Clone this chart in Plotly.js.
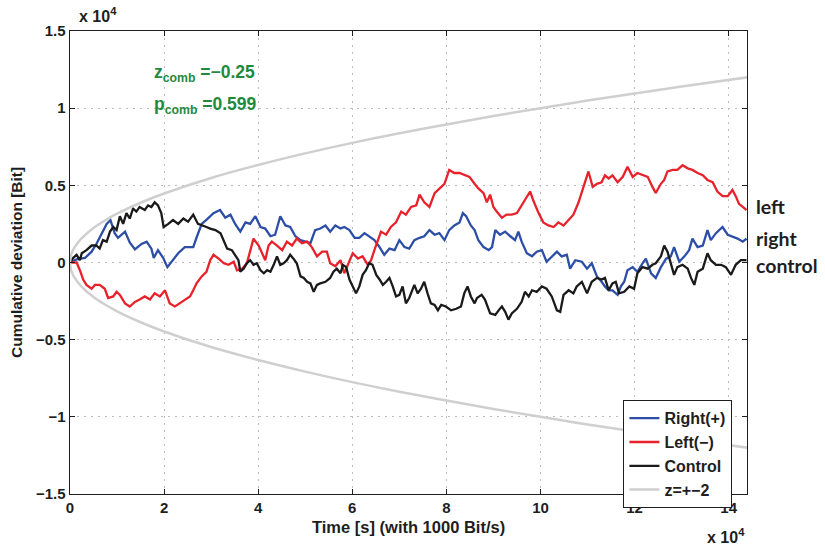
<!DOCTYPE html>
<html>
<head>
<meta charset="utf-8">
<script src="https://cdn.plot.ly/plotly-3.0.1.min.js"></script>
<style>html,body{margin:0;padding:0;background:#fff;}#chart{width:825px;height:546px;}</style>
</head>
<body>
<div id="chart"></div>
<script>
// values in units of 10^4
const rightX = [0,0.14,0.32,0.46,0.56,0.67,0.78,0.86,0.95,1.02,1.17,1.27,1.38,1.52,1.63,1.73,1.78,1.87,1.98,2.07,2.19,2.30,2.44,2.62,2.70,2.80,2.91,3.05,3.19,3.30,3.41,3.51,3.62,3.73,3.83,3.94,4.05,4.15,4.26,4.36,4.47,4.58,4.68,4.79,4.90,5.00,5.11,5.21,5.32,5.43,5.53,5.64,5.75,5.83,5.94,6.05,6.15,6.26,6.36,6.47,6.58,6.68,6.79,6.90,7.00,7.11,7.21,7.32,7.43,7.53,7.64,7.75,7.85,7.96,8.06,8.17,8.28,8.35,8.42,8.52,8.60,8.68,8.79,8.90,8.97,9.04,9.14,9.25,9.36,9.46,9.53,9.60,9.71,9.82,9.92,10.03,10.13,10.24,10.35,10.45,10.56,10.63,10.74,10.88,10.99,11.09,11.20,11.30,11.37,11.45,11.53,11.64,11.71,11.78,11.85,11.96,12.06,12.17,12.24,12.35,12.45,12.56,12.67,12.77,12.84,12.95,13.06,13.16,13.23,13.34,13.45,13.55,13.62,13.73,13.87,13.98,14.08,14.19,14.30,14.38];
const rightY = [0,0.02,0.03,0.07,0.12,0.18,0.25,0.275,0.19,0.16,0.20,0.13,0.085,0.12,0.135,0.09,0.03,0.08,0.03,-0.03,0.02,0.06,0.10,0.10,0.17,0.25,0.28,0.32,0.34,0.29,0.31,0.25,0.20,0.26,0.25,0.30,0.23,0.22,0.17,0.18,0.30,0.24,0.23,0.17,0.145,0.135,0.125,0.21,0.22,0.24,0.20,0.24,0.22,0.23,0.21,0.16,0.16,0.19,0.17,0.145,0.10,0.05,0.09,0.08,0.145,0.10,0.09,0.145,0.16,0.17,0.21,0.18,0.19,0.145,0.21,0.24,0.26,0.32,0.30,0.24,0.21,0.145,0.10,0.08,0.10,0.21,0.18,0.20,0.17,0.145,0.20,0.135,0.06,0.04,0.07,0.08,0.005,0.04,0.07,0.04,0.05,-0.04,0.015,0.005,-0.04,-0.005,-0.09,-0.125,-0.155,-0.18,-0.18,-0.21,-0.155,-0.125,-0.05,-0.03,-0.06,-0.005,0.025,-0.07,-0.10,-0.03,0.025,0.04,0.10,0.005,0.04,0.08,0.155,0.10,0.11,0.21,0.145,0.19,0.23,0.18,0.17,0.155,0.135,0.155];

const leftX = [0,0.14,0.21,0.28,0.35,0.46,0.53,0.63,0.74,0.81,0.92,0.99,1.06,1.17,1.27,1.38,1.48,1.59,1.70,1.80,1.91,2.02,2.12,2.23,2.33,2.44,2.55,2.62,2.69,2.80,2.90,2.98,3.05,3.16,3.27,3.37,3.48,3.55,3.66,3.76,3.83,3.90,4.01,4.08,4.15,4.22,4.29,4.40,4.51,4.61,4.72,4.82,4.93,5.04,5.14,5.25,5.36,5.46,5.53,5.64,5.75,5.83,5.90,6.01,6.12,6.22,6.33,6.40,6.47,6.54,6.61,6.72,6.82,6.93,7.04,7.14,7.25,7.36,7.43,7.53,7.64,7.75,7.85,7.96,8.06,8.17,8.28,8.38,8.49,8.60,8.68,8.79,8.86,8.93,9.00,9.07,9.18,9.28,9.39,9.50,9.60,9.71,9.78,9.85,9.96,10.06,10.17,10.28,10.38,10.49,10.60,10.70,10.81,10.88,10.95,11.02,11.11,11.20,11.30,11.37,11.45,11.53,11.64,11.75,11.85,11.96,12.06,12.17,12.28,12.38,12.45,12.56,12.63,12.70,12.81,12.91,13.02,13.13,13.23,13.34,13.45,13.55,13.66,13.76,13.87,13.98,14.08,14.15,14.22,14.30,14.38];
const leftY = [0,0,-0.05,-0.11,-0.145,-0.17,-0.145,-0.145,-0.17,-0.23,-0.22,-0.19,-0.21,-0.265,-0.285,-0.255,-0.24,-0.22,-0.24,-0.20,-0.22,-0.18,-0.265,-0.285,-0.265,-0.24,-0.22,-0.18,-0.135,-0.09,-0.06,0.015,0.05,0.025,-0.005,-0.015,0.005,-0.05,-0.04,-0.005,0.08,0.155,0.11,0.06,0.015,0.11,0.135,0.11,0.08,0.135,0.11,0.155,0.125,0.135,0.10,0.04,0.07,0.07,-0.005,-0.025,0.015,-0.07,-0.015,0.06,0.025,0.04,-0.015,0.015,0.08,0.135,0.20,0.18,0.23,0.26,0.33,0.31,0.36,0.37,0.44,0.39,0.36,0.45,0.48,0.51,0.60,0.58,0.58,0.57,0.555,0.51,0.48,0.45,0.39,0.44,0.36,0.33,0.29,0.31,0.31,0.32,0.37,0.43,0.46,0.40,0.32,0.26,0.24,0.23,0.26,0.24,0.275,0.31,0.39,0.46,0.535,0.59,0.49,0.51,0.52,0.565,0.545,0.565,0.52,0.555,0.62,0.555,0.58,0.565,0.555,0.49,0.45,0.51,0.535,0.59,0.60,0.60,0.63,0.61,0.60,0.58,0.565,0.535,0.52,0.46,0.43,0.43,0.47,0.43,0.38,0.36,0.34];

const controlX = [0,0.07,0.14,0.21,0.25,0.35,0.46,0.56,0.63,0.70,0.78,0.85,0.92,0.99,1.06,1.13,1.20,1.27,1.34,1.41,1.48,1.59,1.66,1.73,1.80,1.87,1.94,1.99,2.09,2.19,2.30,2.41,2.51,2.62,2.72,2.83,2.90,2.98,3.09,3.20,3.27,3.34,3.44,3.51,3.58,3.62,3.69,3.76,3.83,3.90,3.97,4.05,4.12,4.19,4.26,4.33,4.40,4.47,4.54,4.61,4.68,4.75,4.82,4.90,4.97,5.04,5.11,5.18,5.25,5.32,5.43,5.53,5.60,5.67,5.75,5.80,5.87,5.94,6.01,6.08,6.15,6.22,6.29,6.36,6.43,6.51,6.58,6.65,6.72,6.79,6.86,6.93,7.00,7.07,7.14,7.21,7.32,7.39,7.46,7.53,7.60,7.67,7.75,7.82,7.89,7.99,8.10,8.21,8.31,8.38,8.45,8.52,8.60,8.65,8.75,8.82,8.93,9.04,9.11,9.18,9.25,9.32,9.39,9.50,9.60,9.67,9.75,9.82,9.92,10.03,10.13,10.24,10.35,10.42,10.49,10.60,10.70,10.77,10.88,10.99,11.09,11.20,11.30,11.37,11.45,11.53,11.60,11.67,11.78,11.89,11.99,12.06,12.17,12.28,12.38,12.45,12.56,12.63,12.70,12.77,12.84,12.91,13.02,13.13,13.20,13.27,13.34,13.45,13.55,13.62,13.73,13.84,13.94,14.05,14.15,14.26,14.38];
const controlY = [0,0.03,0.05,0.015,0.06,0.08,0.11,0.11,0.09,0.145,0.135,0.20,0.23,0.21,0.30,0.25,0.32,0.285,0.35,0.33,0.36,0.34,0.37,0.36,0.39,0.37,0.32,0.23,0.25,0.275,0.25,0.285,0.265,0.31,0.25,0.24,0.23,0.22,0.21,0.19,0.145,0.09,0.08,0.05,0.015,-0.06,-0.04,-0.005,0.015,-0.015,-0.005,-0.05,-0.07,-0.05,-0.06,-0.015,0.04,-0.015,-0.005,0.015,0.05,0.025,-0.005,-0.09,-0.10,-0.125,-0.135,-0.19,-0.145,-0.135,-0.125,-0.10,-0.06,-0.04,-0.07,-0.015,-0.03,-0.11,-0.155,-0.20,-0.155,-0.08,-0.05,-0.005,-0.015,-0.08,-0.11,-0.145,-0.125,-0.10,-0.155,-0.22,-0.21,-0.155,-0.265,-0.23,-0.145,-0.20,-0.17,-0.125,-0.20,-0.265,-0.275,-0.31,-0.275,-0.285,-0.31,-0.30,-0.285,-0.20,-0.155,-0.22,-0.265,-0.23,-0.21,-0.24,-0.33,-0.34,-0.31,-0.285,-0.32,-0.37,-0.33,-0.30,-0.255,-0.19,-0.22,-0.18,-0.19,-0.155,-0.17,-0.22,-0.31,-0.32,-0.21,-0.18,-0.20,-0.155,-0.125,-0.20,-0.125,-0.10,-0.11,-0.10,-0.18,-0.135,-0.125,-0.20,-0.19,-0.155,-0.17,-0.07,-0.03,-0.04,-0.015,-0.005,0.04,0.11,0.07,-0.005,-0.08,-0.03,-0.015,-0.04,-0.10,-0.145,-0.06,-0.04,0.06,0.015,-0.015,-0.015,-0.03,-0.08,-0.015,0.015,0.015];

const envX = [0,0.02,0.05,0.1,0.25,0.5,0.75,1,1.5,2,3,4,5,6,7,8,9,10,11,12,13,14.4];
const envUpper = [0,0.045,0.071,0.1,0.158,0.224,0.274,0.316,0.387,0.447,0.548,0.632,0.707,0.775,0.837,0.894,0.949,1.0,1.049,1.095,1.14,1.2];
const envLower = envUpper.map(v => -v);

const xTicks = [0,2,4,6,8,10,12,14];
const yTicks = [-1.5,-1,-0.5,0,0.5,1,1.5];
const seriesNames = ['Right(+)','Left(\u2212)','Control','z=+\u22122'];
const sideLabels = ['left','right','control'];
const statLines = ['z<sub>comb</sub> =\u22120.25','p<sub>comb</sub> =0.599'];

const FONT = 'Liberation Sans, Arial, sans-serif';
const INK = '#1e1e1e';
const traces = [
  {x: rightX, y: rightY, name: seriesNames[0], mode: 'lines', line: {color: '#2c4ea6', width: 2.3}},
  {x: leftX, y: leftY, name: seriesNames[1], mode: 'lines', line: {color: '#e8222b', width: 2.3}},
  {x: controlX, y: controlY, name: seriesNames[2], mode: 'lines', line: {color: '#1a1a1a', width: 2.3}},
  {x: envX, y: envUpper, name: seriesNames[3], mode: 'lines', line: {color: '#cfcfcf', width: 2.5, shape: 'spline'}},
  {x: envX, y: envLower, name: seriesNames[3], mode: 'lines', showlegend: false, line: {color: '#cfcfcf', width: 2.5, shape: 'spline'}}
];

const axisCommon = {
  showline: true, mirror: 'allticks', linecolor: INK, linewidth: 1.4,
  ticks: 'inside', ticklen: 5, tickcolor: INK, tickwidth: 1,
  showgrid: true, gridcolor: '#bdbdbd', griddash: '2px,5px', gridwidth: 1,
  zeroline: false,
  tickfont: {family: FONT, size: 15, color: INK, weight: 'bold'}
};

const layout = {
  width: 825, height: 546,
  margin: {l: 70, r: 78, t: 31, b: 52},
  paper_bgcolor: '#fff', plot_bgcolor: '#fff',
  showlegend: true,
  legend: {
    x: 0.817, y: 0.203, xanchor: 'left', yanchor: 'top',
    bgcolor: '#fff', bordercolor: INK, borderwidth: 1.3,
    font: {family: FONT, size: 16, color: INK, weight: 'bold'},
    tracegroupgap: 0, itemwidth: 30
  },
  xaxis: Object.assign({}, axisCommon, {range: [0, 14.39], tickvals: xTicks, ticktext: xTicks.map(String)}),
  yaxis: Object.assign({}, axisCommon, {range: [-1.5, 1.5], tickvals: yTicks, ticktext: yTicks.map(v => v < 0 ? '\u2212' + Math.abs(v) : String(v))}),
  annotations: [
    {xref: 'paper', yref: 'paper', x: 0.5, y: -0.071, xanchor: 'center', yanchor: 'middle', showarrow: false,
     text: 'Time [s] (with 1000 Bit/s)', font: {family: FONT, size: 16.5, color: INK, weight: 'bold'}},
    {xref: 'paper', yref: 'paper', x: -0.079, y: 0.5, xanchor: 'center', yanchor: 'middle', showarrow: false, textangle: -90,
     text: 'Cumulative deviation [Bit]', font: {family: FONT, size: 15.5, color: INK, weight: 'bold'}},
    {xref: 'paper', yref: 'paper', x: 0.01, y: 1.035, xanchor: 'left', yanchor: 'middle', showarrow: false,
     text: 'x 10<sup>4</sup>', font: {family: FONT, size: 16, color: INK, weight: 'bold'}},
    {xref: 'paper', yref: 'paper', x: 1.0, y: -0.09, xanchor: 'right', yanchor: 'middle', showarrow: false,
     text: 'x 10<sup>4</sup>', font: {family: FONT, size: 16, color: INK, weight: 'bold'}},
    {xref: 'paper', yref: 'paper', x: 0.121, y: 0.908, xanchor: 'left', yanchor: 'middle', showarrow: false,
     text: statLines[0], font: {family: FONT, size: 17.5, color: '#1f8a3e', weight: 'bold'}},
    {xref: 'paper', yref: 'paper', x: 0.121, y: 0.84, xanchor: 'left', yanchor: 'middle', showarrow: false,
     text: statLines[1], font: {family: FONT, size: 17.5, color: '#1f8a3e', weight: 'bold'}},
    {xref: 'paper', yref: 'paper', x: 1.011, y: 0.62, xanchor: 'left', yanchor: 'middle', showarrow: false,
     text: sideLabels[0], font: {family: 'Lato, sans-serif', size: 19.5, color: INK, weight: 'bold'}},
    {xref: 'paper', yref: 'paper', x: 1.011, y: 0.551, xanchor: 'left', yanchor: 'middle', showarrow: false,
     text: sideLabels[1], font: {family: 'Lato, sans-serif', size: 19.5, color: INK, weight: 'bold'}},
    {xref: 'paper', yref: 'paper', x: 1.011, y: 0.493, xanchor: 'left', yanchor: 'middle', showarrow: false,
     text: sideLabels[2], font: {family: 'Lato, sans-serif', size: 19.5, color: INK, weight: 'bold'}}
  ]
};

Plotly.newPlot('chart', traces, layout, {displayModeBar: false, staticPlot: true});
</script>
</body>
</html>
